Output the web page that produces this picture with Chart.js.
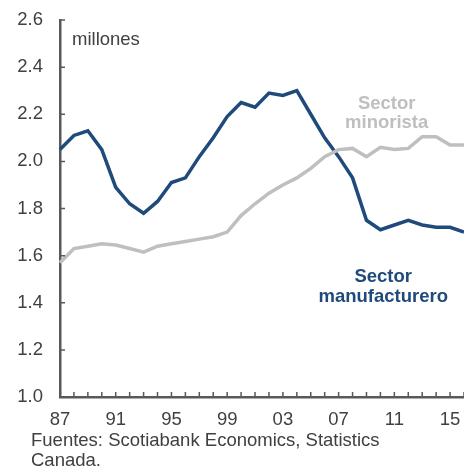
<!DOCTYPE html>
<html>
<head>
<meta charset="utf-8">
<script src="https://cdn.jsdelivr.net/npm/chart.js@4"></script>
<style>
  html, body { margin: 0; padding: 0; background: #fff; }
  #wrap { position: relative; width: 464px; height: 467px; overflow: hidden; }
  #note {
    position: absolute; left: 31px; top: 430px;
    font: 18.5px "Liberation Sans", Arial, sans-serif; line-height: 20px; color: #404040;
  }
</style>
</head>
<body>
<div id="wrap">
  <canvas id="chart" width="464" height="467"></canvas>
  <div id="note">Fuentes: Scotiabank Economics, Statistics<br>Canada.</div>
</div>
<script>
// Data (millones)
const years = ['1987', '1988', '1989', '1990', '1991', '1992', '1993', '1994', '1995', '1996',
  '1997', '1998', '1999', '2000', '2001', '2002', '2003', '2004', '2005', '2006',
  '2007', '2008', '2009', '2010', '2011', '2012', '2013', '2014', '2015', '2016'];
const manufacturero = [2.05, 2.11, 2.13, 2.05, 1.89, 1.82, 1.78, 1.83, 1.91, 1.93,
  2.02, 2.10, 2.19, 2.25, 2.23, 2.29, 2.28, 2.30, 2.20, 2.10,
  2.02, 1.93, 1.75, 1.71, 1.73, 1.75, 1.73, 1.72, 1.72, 1.70];
const minorista = [1.57, 1.63, 1.64, 1.65, 1.645, 1.63, 1.615, 1.64, 1.65, 1.66,
  1.67, 1.68, 1.70, 1.77, 1.82, 1.865, 1.90, 1.93, 1.97, 2.02,
  2.05, 2.055, 2.02, 2.06, 2.05, 2.055, 2.105, 2.105, 2.07, 2.07];
const yTicks = [1.0, 1.2, 1.4, 1.6, 1.8, 2.0, 2.2, 2.4, 2.6];

const FONT = '"Liberation Sans", Arial, sans-serif';
const BLUE = '#1f4a7c';
const GREY = '#bfbfbf';
const AXIS = '#595959';

// small ticks drawn inside the plot, like the original
const innerTicks = {
  id: 'innerTicks',
  afterDraw(chart) {
    const { ctx, chartArea, scales } = chart;
    ctx.save();
    ctx.strokeStyle = AXIS;
    ctx.lineWidth = 1.5;
    ctx.beginPath();
    scales.x.ticks.forEach((t, i) => {
      const x = scales.x.getPixelForTick(i);
      ctx.moveTo(x, chartArea.bottom);
      ctx.lineTo(x, chartArea.bottom - 5);
    });
    scales.y.ticks.forEach((t, i) => {
      const y = scales.y.getPixelForTick(i);
      ctx.moveTo(chartArea.left, y);
      ctx.lineTo(chartArea.left + 5, y);
    });
    ctx.stroke();

    // axis unit
    ctx.fillStyle = '#404040';
    ctx.font = '18.5px ' + FONT;
    ctx.textBaseline = 'middle';
    ctx.fillText('millones', chartArea.left + 12, scales.y.getPixelForValue(2.516));

    // series labels
    ctx.font = 'bold 18.5px ' + FONT;
    ctx.textAlign = 'center';
    ctx.fillStyle = GREY;
    const xm = scales.x.getPixelForValue(23.45);
    ctx.fillText('Sector', xm, scales.y.getPixelForValue(2.244));
    ctx.fillText('minorista', xm, scales.y.getPixelForValue(2.163));
    ctx.fillStyle = BLUE;
    const xs = scales.x.getPixelForValue(23.2);
    ctx.fillText('Sector', xs, scales.y.getPixelForValue(1.51));
    ctx.fillText('manufacturero', xs, scales.y.getPixelForValue(1.425));
    ctx.restore();
  }
};

const chart = new Chart(document.getElementById('chart'), {
  type: 'line',
  data: {
    labels: years,
    datasets: [{
      label: 'Sector minorista',
      data: minorista,
      borderColor: GREY,
      borderWidth: 3.5,
      pointRadius: 0,
      fill: false
    }, {
      label: 'Sector manufacturero',
      data: manufacturero,
      borderColor: BLUE,
      borderWidth: 3.5,
      pointRadius: 0,
      fill: false
    }]
  },
  options: {
    responsive: false,
    animation: false,
    layout: { padding: { top: 20, right: 0, bottom: 35, left: 0 } },
    plugins: {
      legend: { display: false },
      tooltip: { enabled: false }
    },
    scales: {
      x: {
        offset: false,
        grid: { display: false, drawTicks: false },
        border: { display: true, color: AXIS, width: 2.5 },
        ticks: {
          autoSkip: false,
          maxRotation: 0,
          padding: 12,
          color: '#404040',
          font: { family: FONT, size: 18.5 },
          callback: (v, i) => (i % 4 === 0 ? years[i].slice(2) : '')
        },
        afterFit: (s) => { s.height = 35; s.paddingLeft = 0; s.paddingRight = 0; }
      },
      y: {
        min: 1.0,
        max: 2.6,
        afterBuildTicks: (s) => { s.ticks = yTicks.map(v => ({ value: v })); },
        grid: { display: false, drawTicks: false },
        border: { display: true, color: AXIS, width: 2.5 },
        ticks: {
          padding: 17,
          color: '#404040',
          font: { family: FONT, size: 18.5 },
          callback: (v) => v.toFixed(1)
        },
        afterFit: (s) => { s.width = 60; s.paddingTop = 0; s.paddingBottom = 0; }
      }
    }
  },
  plugins: [innerTicks]
});
</script>
</body>
</html>
